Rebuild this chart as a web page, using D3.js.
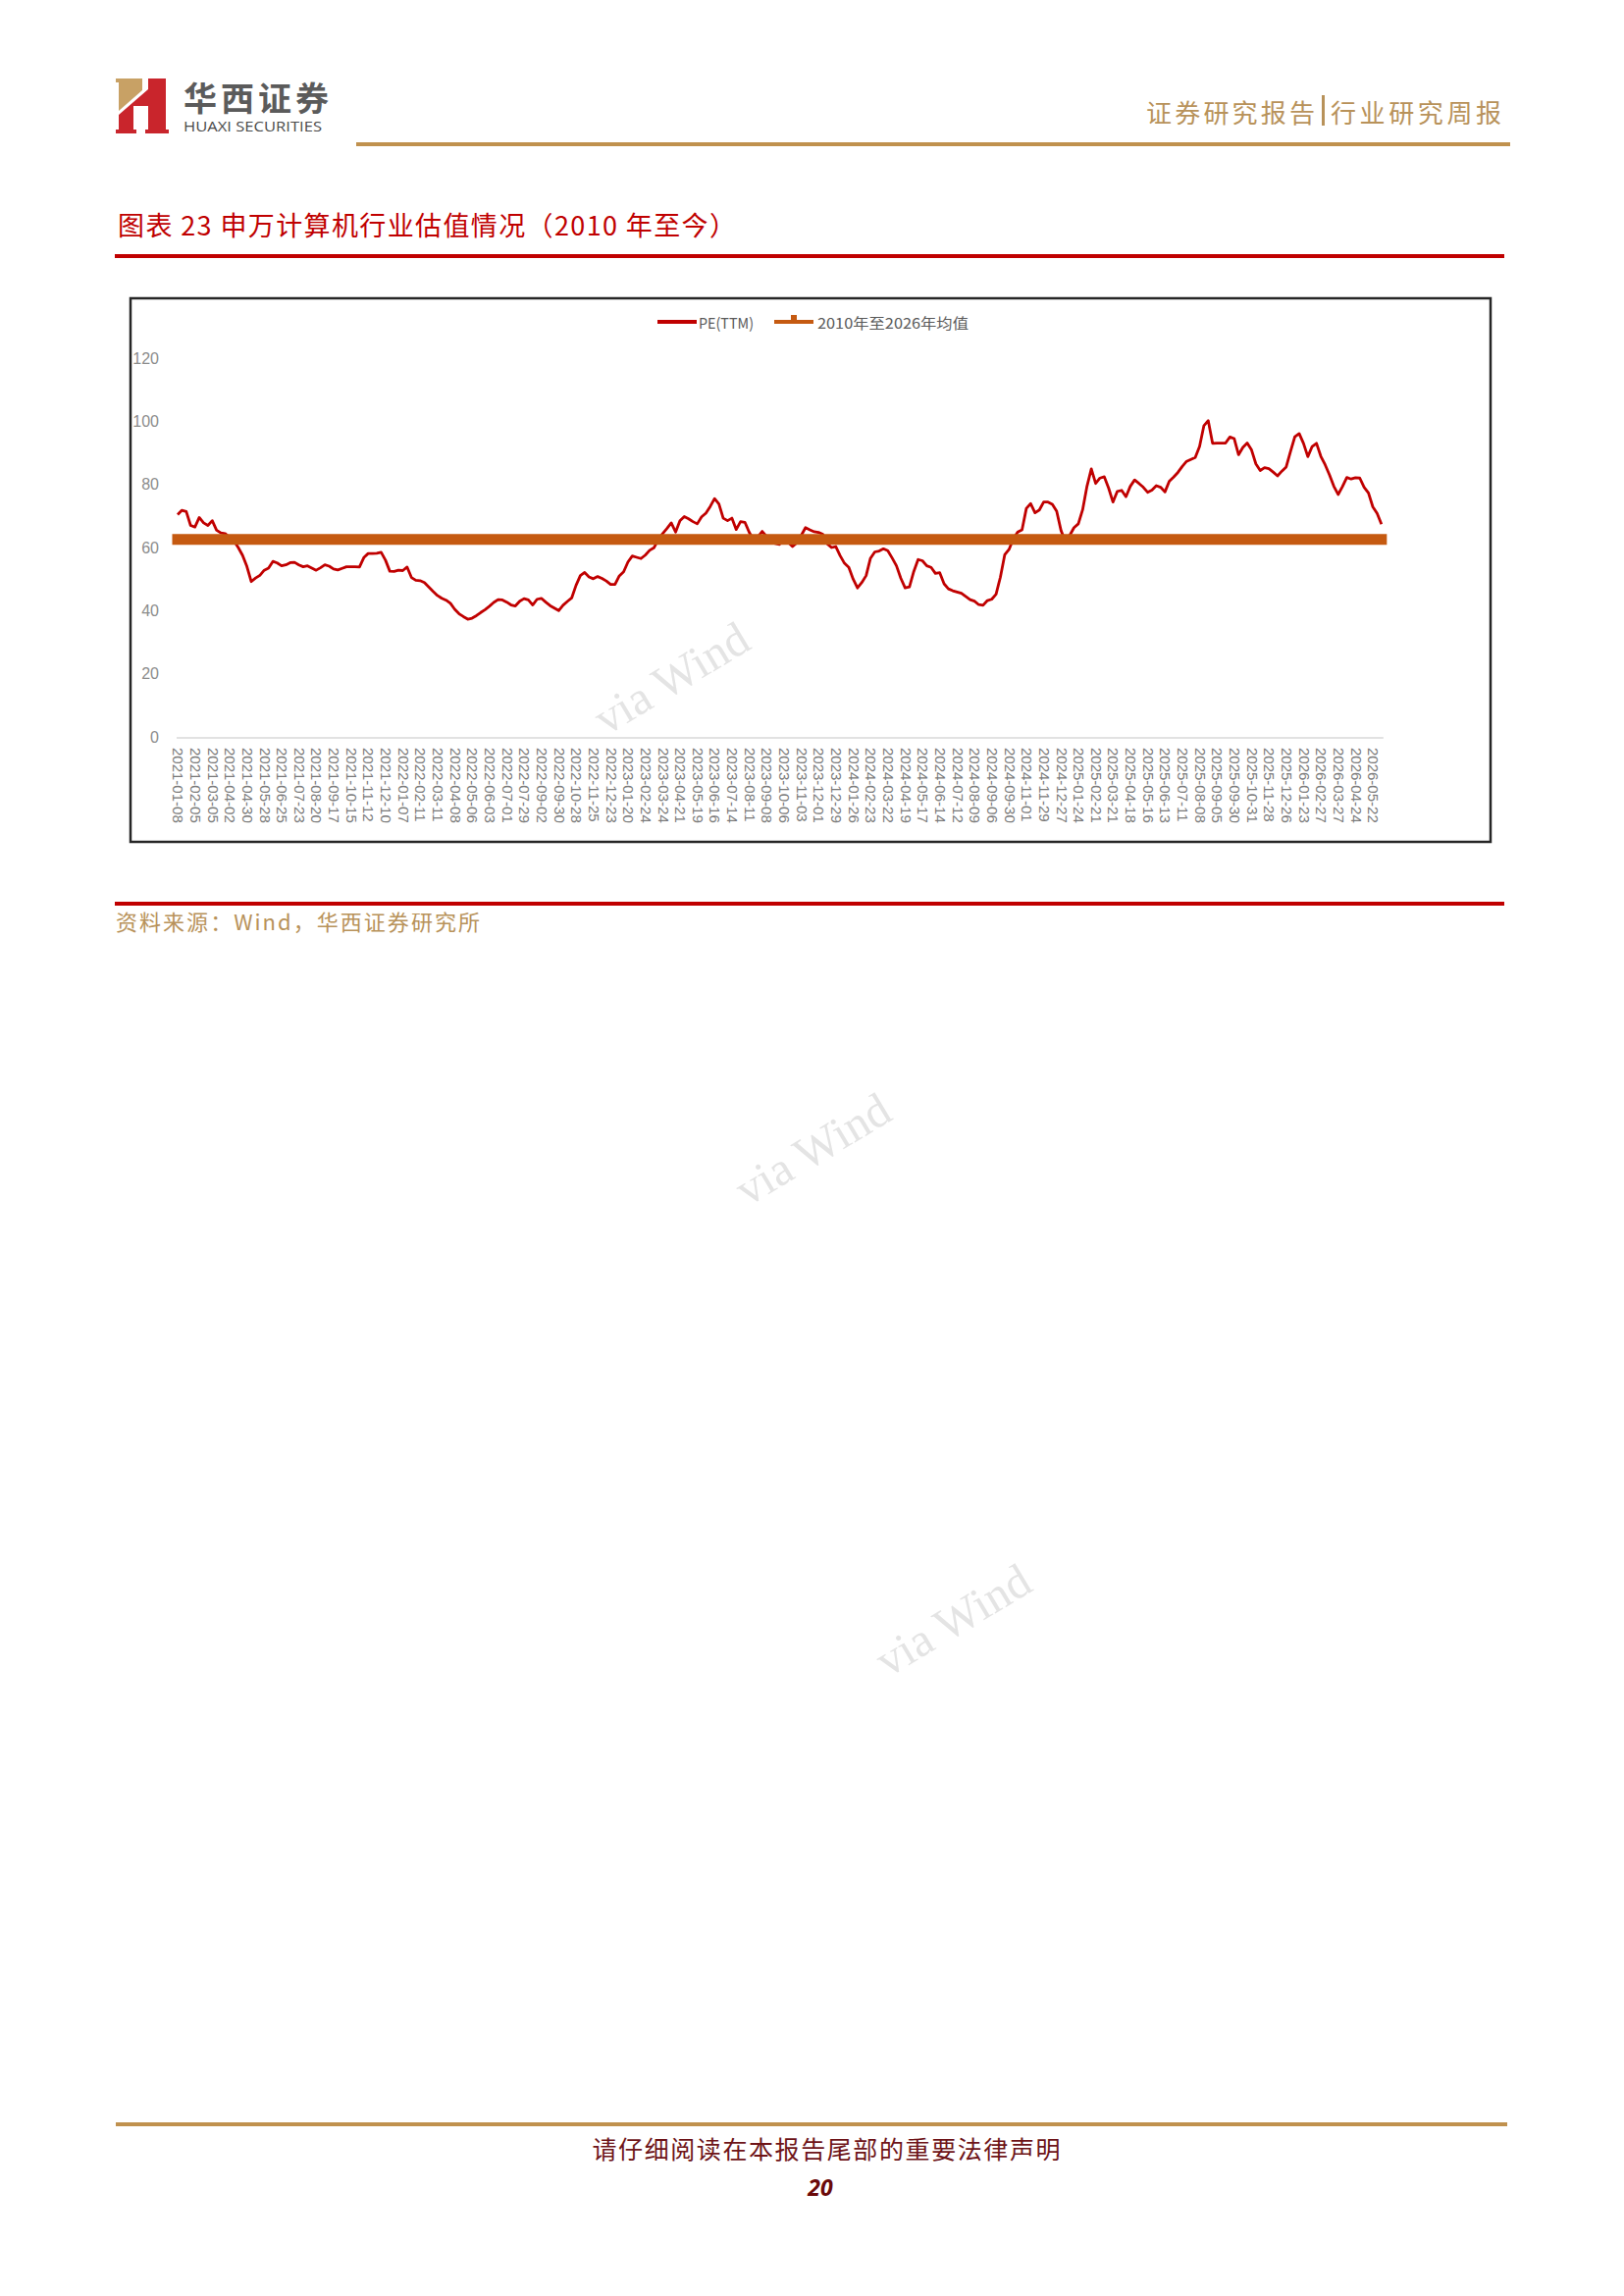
<!DOCTYPE html>
<html><head><meta charset="utf-8">
<script src="https://cdn.jsdelivr.net/npm/d3@7"></script>
<style>body{margin:0;background:#fff}svg{display:block}</style>
</head><body>
<svg id="page" width="1655" height="2340"></svg>
<script>
// ---------- data ----------
const tickLabels = [
"2021-01-08","2021-02-05","2021-03-05","2021-04-02","2021-04-30","2021-05-28","2021-06-25","2021-07-23","2021-08-20","2021-09-17","2021-10-15","2021-11-12","2021-12-10",
"2022-01-07","2022-02-11","2022-03-11","2022-04-08","2022-05-06","2022-06-03","2022-07-01","2022-07-29","2022-09-02","2022-09-30","2022-10-28","2022-11-25","2022-12-23",
"2023-01-20","2023-02-24","2023-03-24","2023-04-21","2023-05-19","2023-06-16","2023-07-14","2023-08-11","2023-09-08","2023-10-06","2023-11-03","2023-12-01","2023-12-29",
"2024-01-26","2024-02-23","2024-03-22","2024-04-19","2024-05-17","2024-06-14","2024-07-12","2024-08-09","2024-09-06","2024-09-30","2024-11-01","2024-11-29","2024-12-27",
"2025-01-24","2025-02-21","2025-03-21","2025-04-18","2025-05-16","2025-06-13","2025-07-11","2025-08-08","2025-09-05","2025-09-30","2025-10-31","2025-11-28","2025-12-26",
"2026-01-23","2026-02-27","2026-03-27","2026-04-24","2026-05-22"];
const tickEvery = 4; // weekly points, one label every 4 weeks

// PE(TTM), weekly
const peValues = [
70.4,71.8,71.4,67.0,66.5,69.5,67.8,67.0,68.5,65.5,64.6,64.4,63.2,62.1,60.0,57.5,54.0,49.2,50.3,51.2,
52.8,53.5,55.6,55.1,54.2,54.5,55.2,55.3,54.5,53.9,54.2,53.5,52.8,53.6,54.5,54.1,53.2,52.9,53.4,53.9,
53.9,53.9,53.8,56.8,58.1,58.1,58.2,58.5,56.0,52.5,52.4,52.8,52.7,53.8,50.5,49.6,49.5,48.9,47.5,46.1,
44.8,43.9,43.3,42.3,40.4,39.0,38.1,37.3,37.6,38.4,39.4,40.3,41.4,42.6,43.5,43.4,42.7,41.8,41.5,43.0,
43.8,43.4,41.8,43.6,43.9,42.7,41.6,40.8,40.0,41.7,42.9,44.0,48.0,51.1,52.1,50.7,50.1,50.8,50.2,49.4,
48.3,48.3,51.0,52.3,55.4,57.3,56.9,56.5,57.6,59.1,59.9,62.5,64.4,66.0,67.8,64.9,68.5,69.8,69.1,68.2,
67.5,69.7,70.9,73.0,75.5,73.8,69.3,68.5,69.3,65.7,68.2,68.0,64.8,62.4,63.4,65.1,63.5,61.8,61.3,61.0,
63.0,61.6,60.3,61.5,63.8,66.3,65.6,65.0,64.8,64.2,61.2,60.0,60.3,57.4,55.0,53.7,50.0,47.2,48.9,51.1,
56.6,58.6,58.9,59.6,59.0,56.7,54.2,50.3,47.2,47.5,52.4,56.2,55.8,54.2,53.7,51.8,52.0,48.5,46.9,46.3,
45.9,45.5,44.5,43.5,43.0,41.9,41.7,43.2,43.6,45.2,50.6,57.7,59.4,62.8,64.9,65.6,72.4,73.9,71.0,71.9,
74.4,74.4,73.7,71.5,65.4,61.9,63.8,66.3,67.5,72.0,79.4,84.9,80.3,82.0,82.4,78.8,74.4,77.8,78.1,76.1,
79.4,81.4,80.3,79.1,77.5,78.2,79.6,79.1,77.6,81.0,82.3,83.8,85.7,87.3,87.9,88.5,92.0,98.6,100.2,93.0,
93.1,93.1,93.1,95.0,94.5,89.4,91.7,93.1,90.9,86.5,84.4,85.3,85.0,83.9,82.7,84.2,85.5,90.4,95.1,96.1,
93.0,88.8,92.0,93.0,88.9,86.2,83.0,79.4,76.8,79.3,82.2,81.7,82.1,82.0,79.1,77.3,72.9,70.8,67.4];

const meanValue = 62.6; // 2010年至2026年均值
const yTicks = [0,20,40,60,80,100,120];
const seriesNames = ["PE(TTM)","2010年至2026年均值"];
const seriesColors = ["#c00000","#c55a11"];

// ---------- page ----------
const svg = d3.select("#page");
const CJK = "'Noto Sans CJK SC','Noto Sans',sans-serif";
const gold = "#b8925a";

// logo
const logo = svg.append("g");
logo.append("path").attr("fill","#c8a165")
  .attr("d","M118,80 L145,80 L145,92 L121,113 L121,84 L118,84 Z");
logo.append("path").attr("fill","#c9252c")
  .attr("d","M118,136 L118,132 L121,132 L121,117 L151,91 L151,80 L169,80 L169,132 L172,132 L172,136 L148,136 L148,132 L151,132 L151,108 L136,108 L136,132 L139,132 L139,136 Z");
logo.append("text").attr("x",187).attr("y",98).attr("dominant-baseline","central")
  .attr("font-family",CJK).attr("font-weight","bold").attr("font-size",34)
  .attr("fill","#5b5b5b").attr("textLength",148).attr("lengthAdjust","spacing").text("华西证券");
logo.append("text").attr("x",187).attr("y",134)
  .attr("font-family","'Open Sans',sans-serif").attr("font-size",15).attr("fill","#4a4a4a")
  .attr("textLength",141).attr("lengthAdjust","spacingAndGlyphs").text("HUAXI SECURITIES");

// header right
svg.append("text").attr("x",1168).attr("y",113).attr("dominant-baseline","central")
  .attr("font-family",CJK).attr("font-size",26).attr("fill",gold)
  .attr("textLength",172).attr("lengthAdjust","spacing").text("证券研究报告");
svg.append("rect").attr("x",1347).attr("y",97).attr("width",3).attr("height",31).attr("fill",gold);
svg.append("text").attr("x",1356).attr("y",113).attr("dominant-baseline","central")
  .attr("font-family",CJK).attr("font-size",26).attr("fill",gold)
  .attr("textLength",174).attr("lengthAdjust","spacing").text("行业研究周报");
svg.append("rect").attr("x",363).attr("y",145).attr("width",1176).attr("height",4).attr("fill","#c0914e");

// title
svg.append("text").attr("x",120).attr("y",228).attr("dominant-baseline","central")
  .attr("font-family",CJK).attr("font-size",27).attr("fill","#c00000")
  .attr("textLength",630).attr("lengthAdjust","spacing")
  .text("图表 23 申万计算机行业估值情况（2010 年至今）");
svg.append("rect").attr("x",117).attr("y",259).attr("width",1416).attr("height",4).attr("fill","#c00000");

// chart frame
svg.append("rect").attr("x",133).attr("y",304).attr("width",1386).attr("height",554)
  .attr("fill","none").attr("stroke","#262626").attr("stroke-width",2.5);

// scales
const x = d3.scaleLinear().domain([0, (tickLabels.length-1)*tickEvery]).range([181, 1399]);
const y = d3.scaleLinear().domain([0, 120]).range([751, 365]);

// watermarks
[[684,691],[828,1171],[971,1651]].forEach(([cx,cy])=>{
  svg.append("text").attr("transform",`translate(${cx},${cy}) rotate(-31)`)
    .attr("text-anchor","middle").attr("dominant-baseline","central")
    .attr("font-family","'Liberation Serif','DejaVu Serif',serif").attr("font-size",48)
    .attr("fill","#e4e4e4").text("via Wind");
});

// y axis
const yAxis = svg.append("g").attr("transform","translate(164,0)")
  .call(d3.axisLeft(y).tickValues(yTicks).tickSize(0).tickPadding(2));
yAxis.select(".domain").remove();
yAxis.selectAll("text").attr("font-family","'Liberation Sans',Arial,sans-serif")
  .attr("font-size",16).attr("fill","#8c8c8c");

// x axis
const lastIdx = peValues.length - 1;
svg.append("line").attr("x1",x(0)-1).attr("x2",x(lastIdx)+2).attr("y1",752).attr("y2",752)
  .attr("stroke","#d9d9d9").attr("stroke-width",1.5);
const xAxis = svg.append("g").attr("transform","translate(0,752)")
  .call(d3.axisBottom(x).tickValues(d3.range(0, tickLabels.length*tickEvery, tickEvery))
    .tickFormat((d)=>tickLabels[d/tickEvery]).tickSize(0));
xAxis.select(".domain").remove();
xAxis.selectAll("text").attr("font-family","'Liberation Sans',Arial,sans-serif")
  .attr("font-size",15).attr("fill","#7a7a7a")
  .attr("x",10).attr("y",0).attr("dy","0.35em").attr("transform","rotate(90)")
  .style("text-anchor","start");

// PE line
svg.append("path").datum(peValues)
  .attr("d", d3.line().x((d,i)=>x(i)).y(d=>y(d)))
  .attr("fill","none").attr("stroke",seriesColors[0]).attr("stroke-width",2.8)
  .attr("stroke-linejoin","round");

// mean line
svg.append("path").datum([0,lastIdx])
  .attr("d", d3.line().x(d=>x(d)).y(()=>y(meanValue)))
  .attr("fill","none").attr("stroke",seriesColors[1]).attr("stroke-width",11)
  .attr("stroke-linecap","square");

// legend
const lg = svg.append("g");
lg.append("line").attr("x1",670).attr("x2",710).attr("y1",328).attr("y2",328)
  .attr("stroke",seriesColors[0]).attr("stroke-width",4);
lg.append("text").attr("x",712).attr("y",328).attr("dominant-baseline","central")
  .attr("font-family",CJK).attr("font-size",15).attr("fill","#595959")
  .attr("textLength",56).attr("lengthAdjust","spacingAndGlyphs").text(seriesNames[0]);
lg.append("line").attr("x1",789).attr("x2",829).attr("y1",328).attr("y2",328)
  .attr("stroke",seriesColors[1]).attr("stroke-width",4);
lg.append("rect").attr("x",806).attr("y",321).attr("width",6).attr("height",8).attr("fill",seriesColors[1]);
lg.append("text").attr("x",833).attr("y",328).attr("dominant-baseline","central")
  .attr("font-family",CJK).attr("font-size",15).attr("fill","#595959")
  .attr("textLength",154).attr("lengthAdjust","spacingAndGlyphs").text(seriesNames[1]);

// source
svg.append("rect").attr("x",117).attr("y",919).attr("width",1416).attr("height",4).attr("fill","#c00000");
svg.append("text").attr("x",118).attr("y",938).attr("dominant-baseline","central")
  .attr("font-family",CJK).attr("font-size",22).attr("fill",gold)
  .attr("textLength",371).attr("lengthAdjust","spacing").text("资料来源：Wind，华西证券研究所");

// footer
svg.append("rect").attr("x",118).attr("y",2163).attr("width",1418).attr("height",4).attr("fill","#c0914e");
svg.append("text").attr("x",842).attr("y",2189).attr("text-anchor","middle").attr("dominant-baseline","central")
  .attr("font-family",CJK).attr("font-size",25).attr("fill","#6e1418")
  .attr("textLength",477).attr("lengthAdjust","spacing").text("请仔细阅读在本报告尾部的重要法律声明");
svg.append("text").attr("x",836).attr("y",2229).attr("text-anchor","middle").attr("dominant-baseline","central")
  .attr("font-family","'Open Sans','Liberation Sans',sans-serif").attr("font-size",23)
  .attr("font-weight","bold").attr("font-style","italic").attr("fill","#6b0a0a").text("20");
</script>
</body></html>
